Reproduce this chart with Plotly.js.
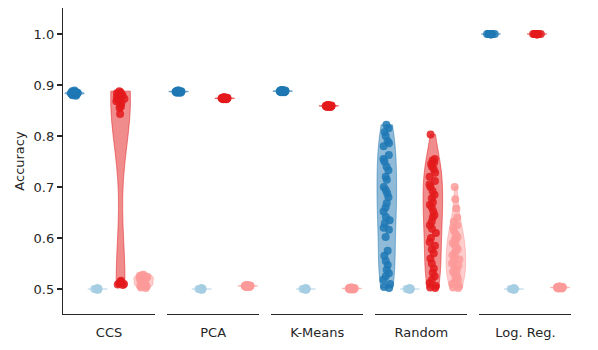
<!DOCTYPE html>
<html>
<head>
<meta charset="utf-8">
<script src="https://cdn.plot.ly/plotly-3.0.1.min.js"></script>
<style>
  html, body { margin: 0; padding: 0; background: #fff; }
  #chart { width: 598px; height: 350px; }
</style>
</head>
<body>
<div id="chart"></div>
<script>
// Accuracy per method, four hue groups per method (Paired palette)
const methods = ['CCS', 'PCA', 'K-Means', 'Random', 'Log. Reg.'];
const hueColors = ['#1f78b4', '#a6cee3', '#e31a1c', '#fb9a99'];
const hueFills = ['rgba(31,120,180,0.5)', 'rgba(166,206,227,0.5)', 'rgba(227,26,28,0.5)', 'rgba(251,154,153,0.5)'];

const ccsDark = [0.884, 0.886, 0.882, 0.885, 0.881, 0.887, 0.883, 0.884, 0.880, 0.886, 0.888, 0.882, 0.885, 0.883, 0.879, 0.884, 0.887, 0.881, 0.885, 0.883, 0.886, 0.882, 0.884, 0.889, 0.883];
const ccsLight = [0.500, 0.499, 0.501, 0.500, 0.500, 0.501, 0.499, 0.500, 0.500, 0.501, 0.499, 0.500, 0.500, 0.501, 0.500, 0.499, 0.500, 0.500, 0.501, 0.500];
const ccsRed = [0.888, 0.886, 0.884, 0.883, 0.882, 0.880, 0.879, 0.878, 0.876, 0.875, 0.873, 0.871, 0.868, 0.865, 0.862, 0.858, 0.855, 0.843, 0.516, 0.514, 0.513, 0.512, 0.511, 0.510, 0.509, 0.508];
const ccsPink = [0.505, 0.508, 0.512, 0.515, 0.518, 0.520, 0.522, 0.524, 0.526, 0.528, 0.510, 0.506, 0.503, 0.517, 0.521, 0.525, 0.527, 0.513, 0.509, 0.502];

const pcaDark = [0.887, 0.886, 0.888, 0.887, 0.885, 0.889, 0.887, 0.886, 0.888, 0.887, 0.886, 0.888, 0.887, 0.885, 0.887, 0.888, 0.886, 0.887, 0.889, 0.887];
const pcaLight = [0.500, 0.499, 0.501, 0.500, 0.500, 0.501, 0.499, 0.500, 0.500, 0.501, 0.499, 0.500, 0.500, 0.501, 0.500, 0.499, 0.500, 0.500, 0.501, 0.500];
const pcaRed = [0.874, 0.873, 0.875, 0.874, 0.872, 0.876, 0.874, 0.873, 0.875, 0.874, 0.873, 0.875, 0.874, 0.872, 0.874, 0.875, 0.873, 0.874, 0.876, 0.874];
const pcaPink = [0.506, 0.505, 0.507, 0.506, 0.504, 0.508, 0.506, 0.505, 0.507, 0.506, 0.505, 0.507, 0.506, 0.504, 0.506, 0.507, 0.505, 0.506, 0.508, 0.506];

const kmDark = [0.888, 0.887, 0.889, 0.888, 0.886, 0.890, 0.888, 0.887, 0.889, 0.888, 0.887, 0.889, 0.888, 0.886, 0.888, 0.889, 0.887, 0.888, 0.890, 0.888];
const kmLight = [0.500, 0.499, 0.501, 0.500, 0.500, 0.501, 0.499, 0.500, 0.500, 0.501, 0.499, 0.500, 0.500, 0.501, 0.500, 0.499, 0.500, 0.500, 0.501, 0.500];
const kmRed = [0.859, 0.858, 0.860, 0.859, 0.857, 0.861, 0.859, 0.858, 0.860, 0.859, 0.858, 0.860, 0.859, 0.857, 0.859, 0.860, 0.858, 0.859, 0.861, 0.859];
const kmPink = [0.501, 0.500, 0.502, 0.501, 0.499, 0.503, 0.501, 0.500, 0.502, 0.501, 0.500, 0.502, 0.501, 0.499, 0.501, 0.502, 0.500, 0.501, 0.503, 0.501];

const randDark = [0.822, 0.815, 0.808, 0.800, 0.790, 0.786, 0.780, 0.763, 0.755, 0.750, 0.740, 0.733, 0.720, 0.714, 0.700, 0.694, 0.688, 0.680, 0.668, 0.660, 0.652, 0.641, 0.635, 0.629, 0.620, 0.616, 0.602, 0.575, 0.565, 0.555, 0.547, 0.538, 0.531, 0.525, 0.518, 0.510, 0.504, 0.502];
const randLight = [0.500, 0.499, 0.501, 0.500, 0.500, 0.501, 0.499, 0.500, 0.500, 0.501, 0.499, 0.500, 0.500, 0.501, 0.500, 0.499, 0.500, 0.500, 0.501, 0.500];
const randRed = [0.803, 0.755, 0.752, 0.748, 0.745, 0.740, 0.735, 0.728, 0.720, 0.712, 0.705, 0.700, 0.692, 0.685, 0.678, 0.670, 0.665, 0.660, 0.652, 0.645, 0.640, 0.632, 0.625, 0.618, 0.610, 0.600, 0.592, 0.585, 0.578, 0.570, 0.560, 0.550, 0.540, 0.532, 0.525, 0.518, 0.512, 0.506, 0.503, 0.502];
const randPink = [0.700, 0.676, 0.658, 0.640, 0.632, 0.625, 0.620, 0.614, 0.608, 0.602, 0.598, 0.594, 0.590, 0.586, 0.582, 0.578, 0.574, 0.570, 0.566, 0.562, 0.558, 0.554, 0.550, 0.546, 0.542, 0.538, 0.534, 0.530, 0.526, 0.522, 0.518, 0.514, 0.510, 0.506, 0.503, 0.502];

const lrDark = [1.000, 0.9995, 1.000, 0.9998, 1.000, 0.9996, 1.000, 0.9999, 1.000, 0.9997, 1.000, 0.9995, 1.000, 0.9998, 1.000, 0.9996, 1.000, 0.9999, 1.000, 0.9997];
const lrLight = [0.500, 0.499, 0.501, 0.500, 0.500, 0.501, 0.499, 0.500, 0.500, 0.501, 0.499, 0.500, 0.500, 0.501, 0.500, 0.499, 0.500, 0.500, 0.501, 0.500];
const lrRed = [1.000, 0.9995, 1.000, 0.9998, 1.000, 0.9996, 1.000, 0.9999, 1.000, 0.9997, 1.000, 0.9995, 1.000, 0.9998, 1.000, 0.9996, 1.000, 0.9999, 1.000, 0.9997];
const lrPink = [0.503, 0.502, 0.504, 0.503, 0.501, 0.505, 0.503, 0.502, 0.504, 0.503, 0.502, 0.504, 0.503, 0.501, 0.503, 0.504, 0.502, 0.503, 0.505, 0.503];

const groups = [
  [ccsDark, ccsLight, ccsRed, ccsPink],
  [pcaDark, pcaLight, pcaRed, pcaPink],
  [kmDark, kmLight, kmRed, kmPink],
  [randDark, randLight, randRed, randPink],
  [lrDark, lrLight, lrRed, lrPink],
];

const TXT = '#262626';
const traces = [];
groups.forEach((hues, i) => {
  const xa = i === 0 ? 'x' : 'x' + (i + 1);
  hues.forEach((vals, h) => {
    traces.push({
      type: 'violin',
      xaxis: xa,
      yaxis: 'y',
      x0: h,
      y: vals,
      width: 0.85,
      scalemode: 'width',
      spanmode: 'hard',
      points: 'all',
      pointpos: 0,
      jitter: 0.45,
      fillcolor: hueFills[h],
      line: { color: hueFills[h], width: 1 },
      marker: { color: hueColors[h], size: 8, opacity: 0.85 },
      box: { visible: false },
      meanline: { visible: false },
      showlegend: false,
      hoverinfo: 'y',
    });
  });
});

const layout = {
  width: 598,
  height: 350,
  margin: { l: 63, r: 26, t: 8, b: 36 },
  paper_bgcolor: '#ffffff',
  plot_bgcolor: '#ffffff',
  font: { family: 'DejaVu Sans, sans-serif', size: 13, color: TXT },
  violinmode: 'overlay',
  showlegend: false,
  yaxis: {
    range: [0.451, 1.051],
    tickvals: [0.5, 0.6, 0.7, 0.8, 0.9, 1.0],
    tickformat: '.1f',
    ticks: 'outside',
    ticklen: 5,
    tickwidth: 1.2,
    tickcolor: TXT,
    showline: true,
    linecolor: TXT,
    linewidth: 1.2,
    showgrid: false,
    zeroline: false,
    anchor: 'x',
    title: { text: 'Accuracy', standoff: 6, font: { size: 13, color: TXT } },
  },
};

const step = 0.2045, span = 0.181;
methods.forEach((m, i) => {
  const key = i === 0 ? 'xaxis' : 'xaxis' + (i + 1);
  layout[key] = {
    domain: [i * step, Math.min(1, i * step + span)],
    range: [-0.5, 3.5],
    anchor: 'y',
    tickvals: [1.5],
    ticktext: [m],
    ticks: '',
    ticklabelstandoff: 6,
    showline: true,
    linecolor: TXT,
    linewidth: 1.2,
    showgrid: false,
    zeroline: false,
    fixedrange: true,
  };
});

Plotly.newPlot('chart', traces, layout, { displayModeBar: false, staticPlot: true });
</script>
</body>
</html>
